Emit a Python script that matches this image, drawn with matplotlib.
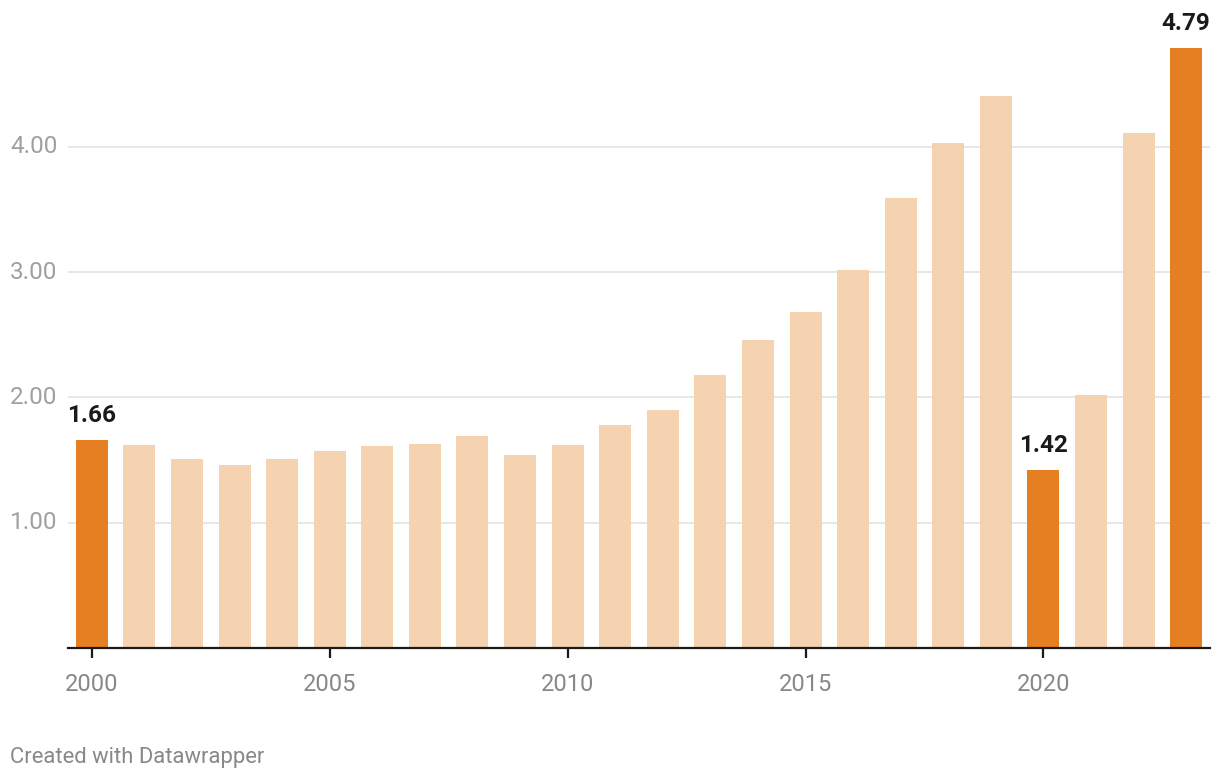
import matplotlib
matplotlib.use("Agg")
import matplotlib.pyplot as plt
from matplotlib.transforms import blended_transform_factory

years = list(range(2000, 2024))
values = [1.66, 1.62, 1.51, 1.46, 1.51, 1.57, 1.61, 1.63, 1.69, 1.54, 1.62,
          1.78, 1.90, 2.18, 2.46, 2.68, 3.02, 3.59, 4.03, 4.41, 1.42, 2.02,
          4.11, 4.79]
highlight_years = [2000, 2020, 2023]
y_ticks = [1.0, 2.0, 3.0, 4.0]
y_tick_labels = ["1.00", "2.00", "3.00", "4.00"]
x_ticks = [2000, 2005, 2010, 2015, 2020]

DARK = "#e67e22"
LIGHT = "#f5d2b0"

plt.rcParams["font.family"] = ["Roboto", "DejaVu Sans"]

W, H = 1220, 780
fig = plt.figure(figsize=(W / 100, H / 100), dpi=100)
left_px, right_px = 68, 1210
bottom_px, top_px = 647.7, 21.7
ax = fig.add_axes([left_px / W, 1 - bottom_px / H, (right_px - left_px) / W,
                   (bottom_px - top_px) / H])

colors = [DARK if y in highlight_years else LIGHT for y in years]
ax.bar(years, values, width=0.673, color=colors, zorder=2)
ax.set_xlim(1999.5, 2023.5)
ax.set_ylim(0, 5.0)

for t in y_ticks:
    ax.axhline(t, color="#e3e3e3", lw=1.2, zorder=1)

for s in ["top", "right", "left"]:
    ax.spines[s].set_visible(False)
ax.spines["bottom"].set_color("#1a1a1a")
ax.spines["bottom"].set_linewidth(1.6)
ax.spines["bottom"].set_zorder(3)

ax.set_yticks([])
ax.set_xticks(x_ticks)
ax.set_xticklabels([str(x) for x in x_ticks], fontsize=17, color="#888888")
ax.tick_params(axis="x", length=7, width=1.6, color="#1a1a1a", pad=11)

trans = blended_transform_factory(fig.transFigure, ax.transData)
for t, lab in zip(y_ticks, y_tick_labels):
    ax.text(10 / W, t, lab, transform=trans, ha="left", va="center",
            fontsize=17.5, color="#a0a0a0")

for y, v in zip(years, values):
    if y in highlight_years:
        ax.annotate(f"{v:.2f}", (y, v), xytext=(0, 9), textcoords="offset points",
                    ha="center", va="bottom", fontsize=17.5, fontweight="bold",
                    color="#1a1a1a")

fig.text(10 / W, 1 - 757 / H, "Created with Datawrapper", ha="left", va="center",
         fontsize=15.8, color="#888888")

fig.savefig("out.png", dpi=100)
